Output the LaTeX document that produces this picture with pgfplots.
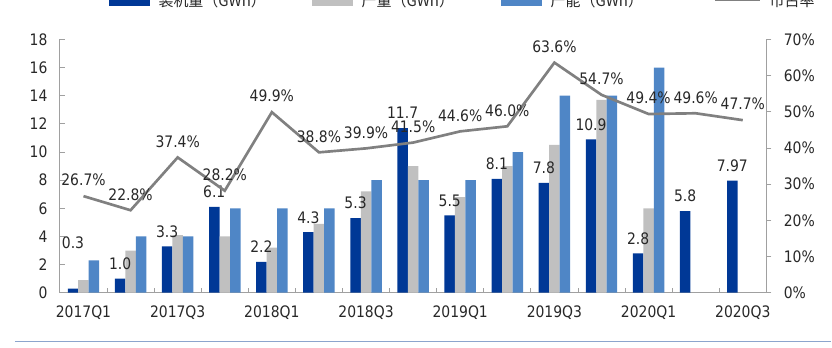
\documentclass[border=0pt]{standalone}
\usepackage{pgfplots}
\usepackage{pgfplotstable}
\pgfplotsset{compat=1.18}
\usepackage{fontspec}
\setmainfont{DejaVu Sans}[FakeStretch=0.88]
\newfontfamily\cjk{Noto Sans CJK SC}
\definecolor{cdark}{RGB}{0,56,150}
\definecolor{cgray}{RGB}{192,192,192}
\definecolor{clight}{RGB}{79,134,198}
\definecolor{cline}{RGB}{128,128,128}
\definecolor{ctext}{RGB}{40,40,40}
\definecolor{caxis}{RGB}{160,160,160}
\definecolor{csep}{RGB}{140,165,205}

\pgfplotstableread{
x inst prod cap share dy lab
0 0.3 0.9 2.3 26.7 27.6 0.3
1 1.0 3.0 4.0 22.8 9 1.0
2 3.3 4.1 4.0 37.4 9 3.3
3 6.1 4.0 6.0 28.2 9 6.1
4 2.2 3.2 6.0 49.9 9 2.2
5 4.3 4.9 6.0 38.8 9 4.3
6 5.3 7.2 8.0 39.9 9 5.3
7 11.7 9.0 8.0 41.5 9 11.7
8 5.5 6.8 8.0 44.6 9 5.5
9 8.1 9.0 10.0 46.0 9 8.1
10 7.8 10.5 14.0 63.6 9 7.8
11 10.9 13.7 14.0 54.7 9 10.9
12 2.8 6.0 16.0 49.4 9 2.8
13 5.8 nan nan 49.6 9 5.8
14 7.97 nan nan 47.7 9 7.97
}\data

\begin{document}
\begin{tikzpicture}
\path (-36pt,-33pt) rectangle (463.2pt,175.8pt);
\begin{axis}[
  at={(0,0)}, anchor=south west,
  width=424.2pt, height=152.1pt, scale only axis,
  xmin=-0.5, xmax=14.5, ymin=0, ymax=18,
  enlargelimits=false, clip=false,
  ybar=0pt, bar width=6.3pt,
  axis x line*=bottom, axis y line*=left,
  axis line style={draw=caxis, line width=0.6pt},
  every tick/.style={draw=caxis, line width=0.5pt},
  tick align=inside, major tick length=3pt,
  xtick={0.5,1.5,...,13.5}, xticklabels={},
  extra x ticks={0,2,...,14},
  extra x tick labels={2017Q1,2017Q3,2018Q1,2018Q3,2019Q1,2019Q3,2020Q1,2020Q3},
  extra x tick style={major tick length=0pt},
  ytick={0,2,...,18},
  /pgf/number format/assume math mode=true,
  tick label style={font=\fontsize{9.5}{11}\selectfont, text=ctext},
  yticklabel style={xshift=-4pt},
  xticklabel style={yshift=-4pt},
  legend columns=4,
  legend style={overlay, draw=none, fill=none, at={(0.0693,1.152)}, anchor=west,
    inner sep=0pt, font=\cjk\fontsize{9}{10}\selectfont, text=ctext,
    /tikz/every odd column/.append style={column sep=3pt},
    /tikz/column 2/.style={column sep=25.8pt},
    /tikz/column 4/.style={column sep=26.4pt},
    /tikz/column 6/.style={column sep=40pt}},
]
\addplot[fill=cdark, draw=none,
  legend image code/.code={\fill[cdark] (0pt,-3pt) rectangle (24.6pt,3pt);},
  nodes near coords, point meta=explicit symbolic,
  visualization depends on={\thisrow{dy} \as \dy},
  every node near coord/.append style={anchor=center, yshift=\dy pt,
    font=\fontsize{9.5}{11}\selectfont, text=ctext}]
  table[x=x, y=inst, meta=lab] {\data};
\addlegendentry{装机量（GWh）}
\addplot[fill=cgray, draw=none,
  legend image code/.code={\fill[cgray] (0pt,-3pt) rectangle (24.6pt,3pt);}]
  table[x=x, y=prod] {\data};
\addlegendentry{产量（GWh）}
\addplot[fill=clight, draw=none,
  legend image code/.code={\fill[clight] (0pt,-3pt) rectangle (24.6pt,3pt);}]
  table[x=x, y=cap] {\data};
\addlegendentry{产能（GWh）}
\addlegendimage{legend image code/.code={\draw[cline, line width=2pt] (0pt,1pt) -- (27pt,1pt);}}
\addlegendentry{市占率}
\end{axis}
\begin{axis}[
  at={(0,0)}, anchor=south west,
  width=424.2pt, height=152.1pt, scale only axis,
  xmin=-0.5, xmax=14.5, ymin=0, ymax=70,
  enlargelimits=false, clip=false,
  axis y line*=right, axis x line=none,
  axis line style={draw=caxis, line width=0.6pt},
  every tick/.style={draw=caxis, line width=0.5pt},
  tick align=outside, major tick length=3pt,
  ytick={0,10,...,70},
  yticklabel={\pgfmathprintnumber{\tick}\%},
  /pgf/number format/assume math mode=true,
  tick label style={font=\fontsize{9.5}{11}\selectfont, text=ctext},
  yticklabel style={xshift=4pt},
]
\addplot[cline, line width=1.6pt, mark=none,
  nodes near coords={\pgfmathprintnumber[fixed, precision=1, fixed zerofill]{\pgfplotspointmeta}\%},
  point meta=\thisrow{share},
  every node near coord/.append style={anchor=center, yshift=9.6pt,
    font=\fontsize{9.5}{11}\selectfont, text=ctext}]
  table[x=x, y=share] {\data};
\end{axis}
\draw[csep, line width=0.9pt] (-27pt,-29.4pt) -- (463.2pt,-29.4pt);
\end{tikzpicture}
\end{document}
